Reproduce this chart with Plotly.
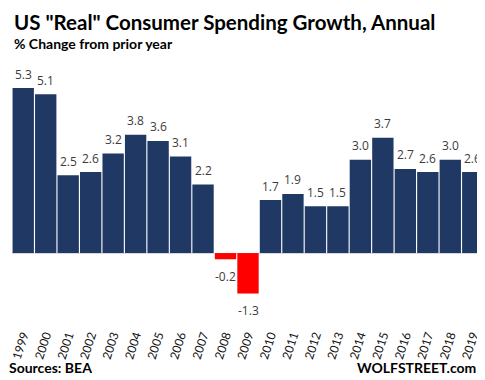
import plotly.graph_objects as go

years = ["1999", "2000", "2001", "2002", "2003", "2004", "2005", "2006", "2007", "2008",
         "2009", "2010", "2011", "2012", "2013", "2014", "2015", "2016", "2017", "2018", "2019"]
growth = [5.3, 5.1, 2.5, 2.6, 3.2, 3.8, 3.6, 3.1, 2.2, -0.2,
          -1.3, 1.7, 1.9, 1.5, 1.5, 3.0, 3.7, 2.7, 2.6, 3.0, 2.6]
labels = ["%.1f" % v for v in growth]

NAVY = "#203864"
RED = "#ff0000"
colors = [NAVY if v >= 0 else RED for v in growth]

# page body has an 8px margin, so the figure is offset by 8px
OFF = 8
W, H = 485 - OFF, 380 - OFF
L, R, T, B = 12 - OFF, 1, 60 - OFF, 60
PW, PH = W - L - R, H - T - B

fig = go.Figure()
fig.add_trace(go.Bar(x=years, y=growth, marker=dict(color=colors, line=dict(width=0)),
                     hoverinfo="skip"))

for i, (v, lab) in enumerate(zip(growth, labels)):
    fig.add_annotation(x=i, y=v, text=lab, showarrow=False,
                       yshift=14 if v >= 0 else -17,
                       font=dict(family="Open Sans", size=12, color="#3c3c3c"))

fig.update_layout(
    width=W, height=H,
    margin=dict(l=L, r=R, t=T, b=B, autoexpand=False),
    paper_bgcolor="white", plot_bgcolor="white",
    bargap=0.05,
    showlegend=False,
    xaxis=dict(type="category", range=[-0.5, len(years) - 0.5], tickangle=-72,
               showgrid=False, showline=False, ticks="", automargin=False,
               ticklabelstandoff=5,
               tickfont=dict(family="Lato", size=12, color="#111111")),
    yaxis=dict(range=[-2.15, 6.2], visible=True, showgrid=False, showticklabels=False,
               zeroline=True, zerolinecolor="#d9d9d9", zerolinewidth=1, ticks=""),
)

def px(x):  # window x -> paper
    return (x - OFF - L) / PW

def py(y):  # window y -> paper
    return 1 - (y - OFF - T) / PH

fig.add_annotation(xref="paper", yref="paper", xanchor="left", yanchor="top",
                   x=px(12), y=py(8), showarrow=False, align="left",
                   text="<b>US \"Real\" Consumer Spending Growth, Annual</b>",
                   font=dict(family="Lato", size=20.5, color="#000000"))
fig.add_annotation(xref="paper", yref="paper", xanchor="left", yanchor="top",
                   x=px(12), y=py(33), showarrow=False, align="left",
                   text="<b>% Change from prior year</b>",
                   font=dict(family="Lato", size=14, color="#000000"))
fig.add_annotation(xref="paper", yref="paper", xanchor="left", yanchor="middle",
                   x=px(7), y=py(367), showarrow=False,
                   text="<b>Sources: BEA</b>",
                   font=dict(family="Lato", size=14, color="#000000"))
fig.add_annotation(xref="paper", yref="paper", xanchor="right", yanchor="middle",
                   x=px(478), y=py(367), showarrow=False,
                   text="<b>WOLFSTREET.com</b>",
                   font=dict(family="Lato", size=14, color="#000000"))

fig.write_html("out.html")
